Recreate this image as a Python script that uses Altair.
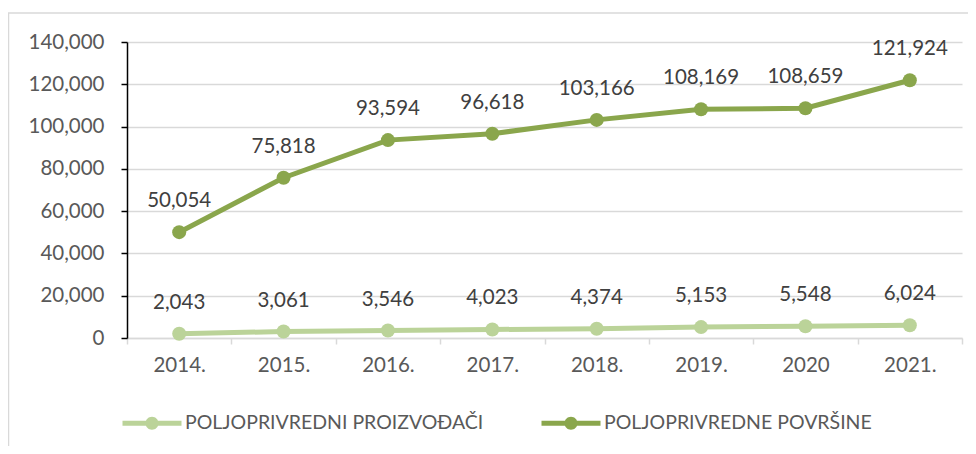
import altair as alt
import pandas as pd

years = ["2014.", "2015.", "2016.", "2017.", "2018.", "2019.", "2020", "2021."]
producers = [2043, 3061, 3546, 4023, 4374, 5153, 5548, 6024]
areas = [50054, 75818, 93594, 96618, 103166, 108169, 108659, 121924]
series_names = ["POLJOPRIVREDNI PROIZVOĐAČI", "POLJOPRIVREDNE POVRŠINE"]
series_colors = ["#BBD399", "#8AA64C"]
y_ticks = [0, 20000, 40000, 60000, 80000, 100000, 120000, 140000]

rows = []
for i, yr in enumerate(years):
    rows.append({"year": yr, "series": series_names[0], "value": producers[i], "order": i})
    rows.append({"year": yr, "series": series_names[1], "value": areas[i], "order": i})
df = pd.DataFrame(rows)

FONT = "Lato"

x_enc = alt.X(
    "year:N", sort=years, title=None,
    scale=alt.Scale(paddingInner=0, paddingOuter=0),
    axis=alt.Axis(
        labelAngle=0, labelFont=FONT, labelFontSize=20.5, labelColor="#595959",
        domainColor="#D9D9D9", domainWidth=1.5, tickColor="#D9D9D9", tickWidth=1.5,
        tickSize=6, tickBand="extent", labelPadding=11, grid=False,
    ),
)
y_enc = alt.Y(
    "value:Q", title=None,
    scale=alt.Scale(domain=[0, 140000], nice=False),
    axis=alt.Axis(
        values=y_ticks, labelExpr="format(datum.value, ',.0f')",
        labelFont=FONT, labelFontSize=20.5, labelColor="#595959",
        domainColor="#000000", domainWidth=1.5, tickColor="#000000", tickWidth=1.5,
        tickSize=6, labelPadding=17, grid=True, gridColor="#D9D9D9", gridWidth=1.5,
    ),
)
color_scale = alt.Scale(domain=series_names, range=series_colors)

legend_path = ("M -2.95 -0.25 L 2.95 -0.25 L 2.95 0.25 L -2.95 0.25 Z "
               "M 0.65 0 A 0.65 0.65 0 1 1 -0.65 0 A 0.65 0.65 0 1 1 0.65 0 Z")

base = alt.Chart(df)

line_layers = []
for name, col in zip(series_names, series_colors):
    line_layers.append(
        base.transform_filter(alt.datum.series == name)
        .mark_line(strokeWidth=5, color=col)
        .encode(x=x_enc, y=y_enc, order="order:Q")
    )

points = base.mark_circle(size=196, opacity=1).encode(
    x=x_enc, y=y_enc,
    color=alt.Color(
        "series:N", scale=color_scale,
        legend=alt.Legend(
            title=None, orient="none", direction="horizontal", columns=2,
            legendX=15, legendY=371, padding=0,
            symbolType=legend_path, symbolSize=400, symbolStrokeWidth=0, symbolOpacity=1,
            labelFont=FONT, labelFontSize=19.5, labelColor="#595959", labelOffset=23,
            labelLimit=500, columnPadding=57,
        ),
    ),
)

labels = base.mark_text(dy=-31, font=FONT, fontSize=20.5, color="#404040").encode(
    x=x_enc, y=y_enc,
    text=alt.Text("value:Q", format=","),
)

frame = alt.Chart(pd.DataFrame({"a": [0]})).mark_rect(
    fill=None, stroke="#D9D9D9", strokeWidth=1.5
).encode(
    x=alt.value(-118.5), x2=alt.value(860), y=alt.value(-29), y2=alt.value(430)
)

chart = alt.layer(frame, *line_layers, points, labels).properties(
    width=835, height=296,
    padding={"left": 119, "top": 34, "right": 6, "bottom": 108},
    autosize=alt.AutoSizeParams(type="none"),
    background="white",
).configure_view(stroke=None)

chart.save("out.html", embed_options={"renderer": "svg", "actions": False})
